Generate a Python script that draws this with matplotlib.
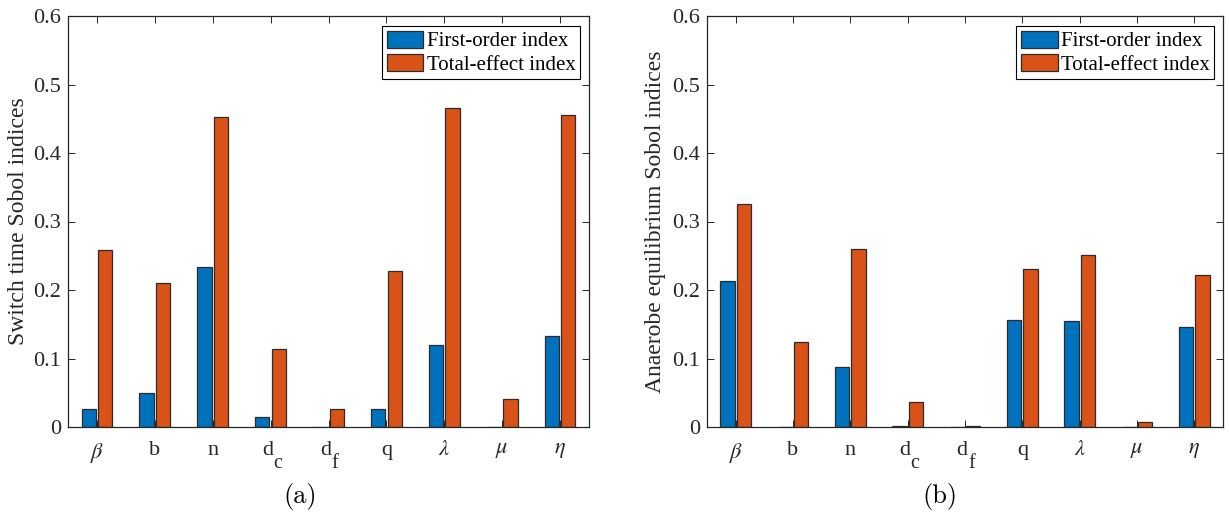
import matplotlib
matplotlib.use("Agg")
import matplotlib.pyplot as plt
import numpy as np

plt.rcParams['font.family'] = ['Liberation Serif', 'DejaVu Serif']
plt.rcParams['mathtext.fontset'] = 'stix'

# parametros y sus indices de Sobol
params = [r'$\beta$', 'b', 'n', 'd', 'd', 'q', r'$\lambda$', r'$\mu$', r'$\eta$']
subs = ['', '', '', 'c', 'f', '', '', '', '']

switch_first = [0.027, 0.049, 0.234, 0.0145, 0.0005, 0.027, 0.119, 0.0005, 0.133]
switch_total = [0.259, 0.210, 0.452, 0.114, 0.026, 0.228, 0.465, 0.041, 0.455]

anaer_first = [0.213, 0.0005, 0.087, 0.001, 0.0005, 0.156, 0.155, 0.0005, 0.146]
anaer_total = [0.325, 0.124, 0.260, 0.037, 0.001, 0.230, 0.251, 0.008, 0.222]

ylabels = ['Switch time Sobol indices', 'Anaerobe equilibrium Sobol indices']
panel_tags = ['(a)', '(b)']

blue = '#0072BD'
orange = '#D95319'
dark = '#262626'

W, H = 1229, 516
fig = plt.figure(figsize=(W / 100, H / 100), dpi=100)
ax1 = fig.add_axes([68 / W, 89 / H, 521 / W, 411 / H])
ax2 = fig.add_axes([707 / W, 89 / H, 516 / W, 411 / H])

# Dibuja un panel de barras agrupadas
def plot_panel(ax, first, total, ylabel, ylab_x) :
    x = np.arange(1, len(params) + 1)
    w = 0.246
    ax.bar(x - 0.143, first, w, color=blue, edgecolor='#2b2b2b', linewidth=0.9, label='First-order index')
    ax.bar(x + 0.143, total, w, color=orange, edgecolor='#2b2b2b', linewidth=0.9, label='Total-effect index')
    ax.set_xlim(0.5, 9.5)
    ax.set_ylim(0, 0.6)
    ax.set_xticks(x)
    # las etiquetas con subindice se escriben aparte
    ax.set_xticklabels([p if not s else '' for p, s in zip(params, subs)])
    ax.set_yticks(np.arange(0, 0.61, 0.1))
    ax.set_yticklabels(['0', '0.1', '0.2', '0.3', '0.4', '0.5', '0.6'])
    ax.tick_params(direction='in', top=True, right=True, length=5, width=0.7,
                   labelsize=16, colors=dark, pad=5)
    ax.tick_params(axis='x', pad=10)
    for xi, p, s in zip(x, params, subs) :
        if s :
            ax.annotate(p, xy=(xi, 0), xycoords=('data', 'axes fraction'),
                        xytext=(1.8, -20.3), textcoords='offset points',
                        ha='right', va='baseline', fontsize=16, color=dark)
            ax.annotate(s, xy=(xi, 0), xycoords=('data', 'axes fraction'),
                        xytext=(2.2, -29.5), textcoords='offset points',
                        ha='left', va='baseline', fontsize=14.5, color=dark)
    for sp in ax.spines.values() :
        sp.set_color(dark)
        sp.set_linewidth(0.9)
    ax.set_ylabel(ylabel, fontsize=17, color=dark, va='center')
    ax.yaxis.set_label_coords(ylab_x, 0.5)
    leg = ax.legend(loc='upper right', bbox_to_anchor=(1 - 9 / 521, 1 - 10 / 411), borderaxespad=0,
                    fontsize=15, frameon=True, fancybox=False, framealpha=1,
                    edgecolor='black', handlelength=1.75, handleheight=0.9,
                    handletextpad=0.15, labelspacing=0.12, borderpad=0.22)
    leg.get_frame().set_linewidth(0.8)

plot_panel(ax1, switch_first, switch_total, ylabels[0], -0.095)
plot_panel(ax2, anaer_first, anaer_total, ylabels[1], -0.10)

fig.text(300 / W, 1 - 497 / H, panel_tags[0], ha='center', va='center',
         fontsize=19, family='cmr10')
fig.text(940 / W, 1 - 497 / H, panel_tags[1], ha='center', va='center',
         fontsize=19, family='cmr10')

fig.savefig('out.png', dpi=100)
